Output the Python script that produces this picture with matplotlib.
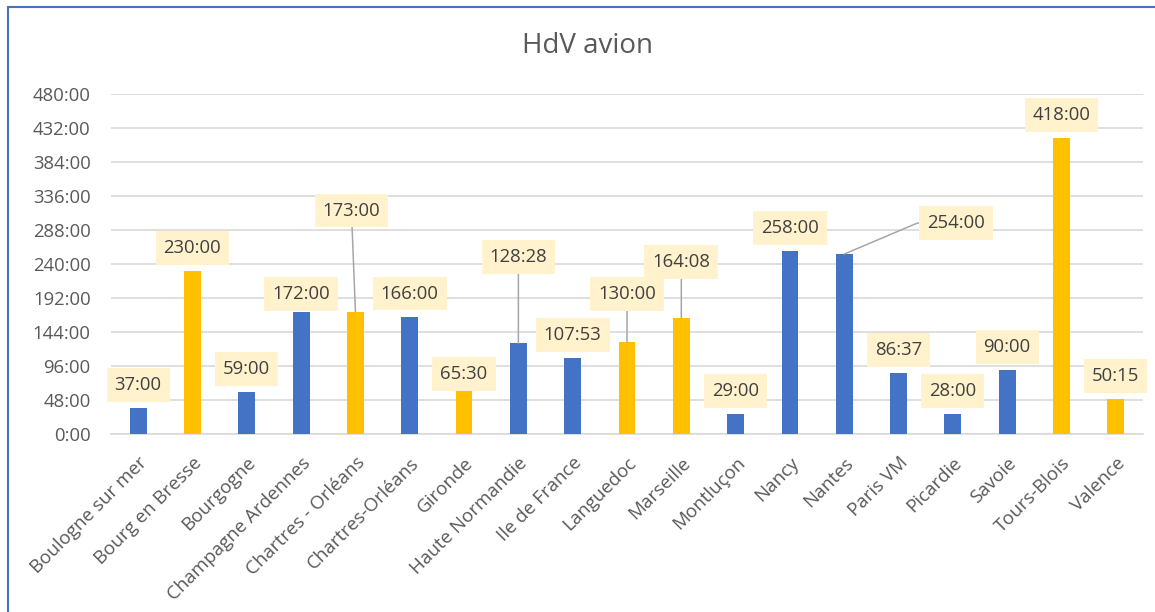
import matplotlib
matplotlib.use("Agg")
import matplotlib.pyplot as plt
from matplotlib.patches import Rectangle

# ---------------- data ----------------
categories = ["Boulogne sur mer", "Bourg en Bresse", "Bourgogne", "Champagne Ardennes",
              "Chartres - Orléans", "Chartres-Orléans", "Gironde", "Haute Normandie",
              "Ile de France", "Languedoc", "Marseille", "Montluçon", "Nancy", "Nantes",
              "Paris VM", "Picardie", "Savoie", "Tours-Blois", "Valence"]
hours = [37 + 0/60, 230, 59, 172, 173, 166, 65 + 30/60, 128 + 28/60, 107 + 53/60,
         130, 164 + 8/60, 29, 258, 254, 86 + 37/60, 28, 90, 418, 50 + 15/60]
labels = ["37:00", "230:00", "59:00", "172:00", "173:00", "166:00", "65:30", "128:28",
          "107:53", "130:00", "164:08", "29:00", "258:00", "254:00", "86:37", "28:00",
          "90:00", "418:00", "50:15"]
group = ["b", "y", "b", "b", "y", "b", "y", "b", "b", "y", "y", "b", "b", "b", "b",
         "b", "b", "y", "y"]
yticks = list(range(0, 481, 48))
ytick_labels = [f"{t}:00" for t in yticks]

# ---------------- style ----------------
BLUE = "#4472C4"
GOLD = "#FFC000"
colors = {"b": BLUE, "y": GOLD}
TXT = "#595959"
LBL = "#404040"
plt.rcParams["font.family"] = ["Open Sans", "DejaVu Sans"]

# label offsets (pixels) relative to bar top
default_off = (0, 23)
offsets = {3: (0, 18), 4: (-4, 101), 6: (0, 14), 7: (0, 86), 9: (0, 48),
           10: (0, 56), 13: (112, 31)}
leaders = {4, 7, 9, 10, 13}

fig = plt.figure(figsize=(11.55, 6.12), dpi=100)
ax = fig.add_axes([111/1155, 1 - 434.3/612, (1143-111)/1155, (434.3-93.7)/612])

x = list(range(len(categories)))
ax.bar(x, hours, width=0.31, color=[colors[g] for g in group], zorder=3)

ax.set_ylim(0, 480)
ax.set_xlim(-0.5, len(categories) - 0.5)
ax.set_yticks(yticks)
ax.set_yticklabels(ytick_labels, fontsize=13.3, color=TXT)
ax.set_xticks(x)
ax.set_xticklabels(categories, fontsize=13.5, color=TXT, rotation=45, ha="right",
                   va="top", rotation_mode="anchor")
ax.tick_params(axis="both", length=0)
ax.tick_params(axis="y", pad=14.5)
ax.tick_params(axis="x", pad=14)
ax.grid(axis="y", color="#D9D9D9", linewidth=1.2, zorder=0)
for s in ["top", "right", "left"]:
    ax.spines[s].set_visible(False)
ax.spines["bottom"].set_color("#D9D9D9")
ax.spines["bottom"].set_linewidth(1.2)

for i, (v, lab) in enumerate(zip(hours, labels)):
    dx, dy = offsets.get(i, default_off)
    kw = {}
    if i in leaders:
        if i == 13:
            kw["arrowprops"] = dict(arrowstyle="-", color="#A6A6A6", lw=1.1,
                                    shrinkA=0, shrinkB=0, relpos=(0, 0.5),
                                    connectionstyle="arc,angleA=180,angleB=0,armA=10,armB=0,rad=0")
        else:
            kw["arrowprops"] = dict(arrowstyle="-", color="#A6A6A6", lw=1.1,
                                    shrinkA=0, shrinkB=0)
    ax.annotate(lab, xy=(i, v), xytext=(dx, dy), textcoords="offset pixels",
                ha="center", va="center", fontsize=13.3, color=LBL, zorder=5,
                bbox=dict(boxstyle="square,pad=0.43", facecolor="#FFF2CC", edgecolor="none"),
                **kw)

fig.text(588/1155, 1 - 46/612, "HdV avion", ha="center", va="center",
         fontsize=20, color=TXT)

# outer chart border
fig.patches.append(Rectangle((7.5/1155, -0.1), 1.2, 1 - 6.5/612 + 0.1,
                             transform=fig.transFigure, fill=False,
                             edgecolor="#4472C4", linewidth=1.5))

fig.savefig("out.png", dpi=100)
